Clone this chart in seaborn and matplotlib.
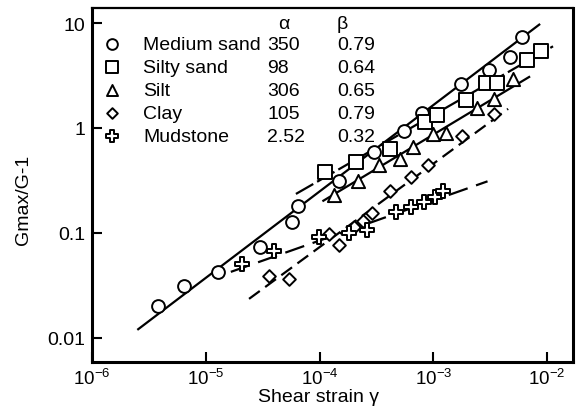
import pandas as pd
import seaborn as sns
import matplotlib.pyplot as plt
from matplotlib.ticker import FixedLocator, FixedFormatter, NullLocator

sand_x = [3.8e-6, 6.4e-6, 1.27e-5, 3.0e-5, 5.7e-5, 6.5e-5, 1.47e-4, 3.0e-4, 5.5e-4, 8.0e-4, 1.76e-3, 3.1e-3, 4.7e-3, 6.0e-3]
sand_y = [0.020, 0.031, 0.042, 0.074, 0.127, 0.181, 0.31, 0.59, 0.94, 1.39, 2.6, 3.6, 4.7, 7.4]

silty_x = [1.11e-4, 2.1e-4, 4.2e-4, 8.5e-4, 1.08e-3, 1.95e-3, 2.9e-3, 3.6e-3, 6.7e-3, 8.9e-3]
silty_y = [0.38, 0.47, 0.63, 1.14, 1.33, 1.85, 2.7, 2.7, 4.4, 5.4]

silt_x = [1.33e-4, 2.2e-4, 3.3e-4, 5.1e-4, 6.6e-4, 1.0e-3, 1.3e-3, 2.4e-3, 3.4e-3, 5.0e-3]
silt_y = [0.23, 0.31, 0.44, 0.51, 0.66, 0.88, 0.90, 1.55, 1.9, 2.9]

clay_x = [3.6e-5, 5.4e-5, 1.2e-4, 1.47e-4, 2.0e-4, 2.4e-4, 2.9e-4, 4.2e-4, 6.4e-4, 9.0e-4, 1.8e-3, 3.4e-3]
clay_y = [0.039, 0.036, 0.098, 0.077, 0.114, 0.130, 0.155, 0.25, 0.34, 0.44, 0.84, 1.36]

mud_x = [2.1e-5, 4.0e-5, 9.8e-5, 1.83e-4, 2.6e-4, 4.7e-4, 6.4e-4, 8.3e-4, 1.04e-3, 1.22e-3]
mud_y = [0.051, 0.067, 0.092, 0.100, 0.107, 0.158, 0.177, 0.197, 0.220, 0.251]

# fitted lines (end points)
fit_x = {'Medium sand': [2.5e-6, 8.7e-3], 'Silty sand': [6.2e-5, 1.13e-2], 'Silt': [1.06e-4, 7.1e-3],
         'Clay': [2.4e-5, 4.55e-3], 'Mudstone': [1.66e-5, 3.0e-3]}
fit_y = {'Medium sand': [0.0119, 9.8], 'Silty sand': [0.235, 6.0], 'Silt': [0.20, 3.1],
         'Clay': [0.0235, 1.52], 'Mudstone': [0.0425, 0.31]}

soils = ['Medium sand', 'Silty sand', 'Silt', 'Clay', 'Mudstone']
alpha = ['350', '98', '306', '105', '2.52']
beta = ['0.79', '0.64', '0.65', '0.79', '0.32']

x_ticks = [1e-6, 1e-5, 1e-4, 1e-3, 1e-2]
x_labels = ['$10^{-6}$', '$10^{-5}$', '$10^{-4}$', '$10^{-3}$', '$10^{-2}$']
y_ticks = [0.01, 0.1, 1, 10]
y_labels = ['0.01', '0.1', '1', '10']

sns.set_theme(style='ticks')
plt.rcParams['font.family'] = ['Liberation Sans', 'DejaVu Sans']
plt.rcParams['mathtext.fontset'] = 'custom'
plt.rcParams['mathtext.rm'] = 'Liberation Sans'
plt.rcParams['mathtext.it'] = 'Liberation Sans'
plt.rcParams['text.color'] = 'black'
plt.rcParams['axes.labelcolor'] = 'black'

fig = plt.figure(figsize=(5.79, 4.10), dpi=100)
ax = fig.add_axes([0.159, 0.115, 0.831, 0.863])

styles = {
    'Medium sand': dict(marker='o', s=85, ls=(0, ())),
    'Silty sand': dict(marker='s', s=90, ls=(0, (9, 2))),
    'Silt': dict(marker='^', s=90, ls=(0, ())),
    'Clay': dict(marker='D', s=42, ls=(0, (6, 3))),
    'Mudstone': dict(marker='P', s=115, ls=(0, (9, 4))),
}
pts = {'Medium sand': (sand_x, sand_y), 'Silty sand': (silty_x, silty_y), 'Silt': (silt_x, silt_y),
       'Clay': (clay_x, clay_y), 'Mudstone': (mud_x, mud_y)}

for name in soils:
    st = styles[name]
    line_df = pd.DataFrame({'x': fit_x[name], 'y': fit_y[name]})
    sns.lineplot(data=line_df, x='x', y='y', ax=ax, color='black', lw=1.6, linestyle=st['ls'])
for name in soils:
    st = styles[name]
    df = pd.DataFrame({'x': pts[name][0], 'y': pts[name][1]})
    sns.scatterplot(data=df, x='x', y='y', ax=ax, marker=st['marker'], s=st['s'],
                    facecolor='white', edgecolor='black', linewidth=1.4, zorder=3)

ax.set_xscale('log')
ax.set_yscale('log')
ax.set_xlim(1e-6, 1.7e-2)
ax.set_ylim(0.0059, 13.9)

ax.xaxis.set_major_locator(FixedLocator(x_ticks))
ax.xaxis.set_major_formatter(FixedFormatter(x_labels))
ax.xaxis.set_minor_locator(NullLocator())
ax.yaxis.set_major_locator(FixedLocator(y_ticks))
ax.yaxis.set_major_formatter(FixedFormatter(y_labels))
ax.yaxis.set_minor_locator(NullLocator())
ax.tick_params(direction='in', length=7, width=1.5, labelsize=14, pad=5, colors='black')
ax.tick_params(axis='x', labelsize=13.5, pad=4)

for side in ['left', 'bottom', 'right']:
    ax.spines[side].set_linewidth(2.2)
ax.spines['top'].set_linewidth(1.6)
for sp in ax.spines.values():
    sp.set_visible(True)
    sp.set_color('black')

ax.set_xlabel('Shear strain γ', fontsize=14)
ax.set_ylabel('Gmax/G-1', fontsize=14)
ax.xaxis.set_label_coords(0.47, -0.097)
ax.xaxis.label.set_va('center')
ax.yaxis.set_label_coords(-0.143, 0.46)
ax.yaxis.label.set_va('center')

# table-style legend
ax.text(0.387, 0.955, 'α', transform=ax.transAxes, fontsize=14, va='center', ha='left')
ax.text(0.509, 0.955, 'β', transform=ax.transAxes, fontsize=14, va='center', ha='left')
for i, name in enumerate(soils):
    yy = 0.898 - i * 0.065
    st = styles[name]
    ax.scatter([0.042], [yy], transform=ax.transAxes, marker=st['marker'], s=st['s'] * 0.7,
               facecolor='white', edgecolor='black', linewidth=1.4, zorder=4)
    ax.text(0.106, yy, name, transform=ax.transAxes, fontsize=14, va='center', ha='left')
    ax.text(0.364, yy, alpha[i], transform=ax.transAxes, fontsize=14, va='center', ha='left')
    ax.text(0.509, yy, beta[i], transform=ax.transAxes, fontsize=14, va='center', ha='left')

plt.savefig('out.png', dpi=100)
